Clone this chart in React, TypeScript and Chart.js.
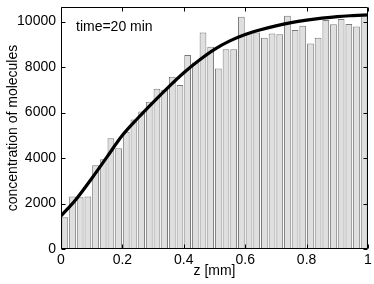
import React, { useEffect, useRef } from "react";
import { Chart, registerables } from "chart.js";

Chart.register(...registerables);

const binCenters = [
  0.0125, 0.0375, 0.0625, 0.0875, 0.1125, 0.1375, 0.1625, 0.1875, 0.2125, 0.2375,
  0.2625, 0.2875, 0.3125, 0.3375, 0.3625, 0.3875, 0.4125, 0.4375, 0.4625, 0.4875,
  0.5125, 0.5375, 0.5625, 0.5875, 0.6125, 0.6375, 0.6625, 0.6875, 0.7125, 0.7375,
  0.7625, 0.7875, 0.8125, 0.8375, 0.8625, 0.8875, 0.9125, 0.9375, 0.9625, 0.9875,
];
const binCounts = [
  1400, 2310, 2270, 2310, 3680, 3950, 4870, 4430, 5150, 5690,
  6050, 6470, 7050, 7000, 7570, 7210, 8530, 8200, 9520, 8890,
  7940, 8780, 8780, 10210, 9520, 9520, 9290, 9480, 9440, 10260,
  9630, 9820, 9040, 9290, 10070, 9880, 10110, 9890, 9780, 10320,
];
const curveZ = [
  0, 0.05, 0.1, 0.15, 0.2, 0.25, 0.3, 0.35, 0.4, 0.45, 0.5,
  0.55, 0.6, 0.65, 0.7, 0.75, 0.8, 0.85, 0.9, 0.95, 1,
];
const curveC = [
  1450, 2200, 3100, 4050, 5000, 5750, 6450, 7120, 7750, 8300, 8780,
  9150, 9430, 9640, 9810, 9950, 10060, 10150, 10220, 10260, 10290,
];
const xTicks = [0, 0.2, 0.4, 0.6, 0.8, 1];
const yTicks = [0, 2000, 4000, 6000, 8000, 10000];
const yMax = 10640;
const annotation = "time=20 min";
const xTitle = "z [mm]";
const yTitle = "concentration of molecules";

const FONT = "'Liberation Sans', Arial, Helvetica, sans-serif";

const matlabAxes = {
  id: "matlabAxes",
  afterDatasetsDraw(chart: any) {
    const { ctx, chartArea, scales } = chart;
    const { left, right, top, bottom } = chartArea;
    const x = scales.x;
    const y = scales.y;
    ctx.save();
    ctx.strokeStyle = "#000";
    ctx.lineWidth = 1;
    const L = Math.round(left) + 0.5;
    const R = Math.round(right) - 0.5;
    const T = Math.round(top) + 0.5;
    const B = Math.round(bottom) - 0.5;
    ctx.beginPath();
    ctx.rect(L, T, R - L, B - T);
    const tl = 4;
    for (const v of xTicks) {
      const px = Math.round(x.getPixelForValue(v)) + 0.5;
      ctx.moveTo(px, B);
      ctx.lineTo(px, B - tl);
      ctx.moveTo(px, T);
      ctx.lineTo(px, T + tl);
    }
    for (const v of yTicks) {
      const py = Math.round(y.getPixelForValue(v)) + 0.5;
      ctx.moveTo(L, py);
      ctx.lineTo(L + tl, py);
      ctx.moveTo(R, py);
      ctx.lineTo(R - tl, py);
    }
    ctx.stroke();
    ctx.fillStyle = "#000";
    ctx.font = `14px ${FONT}`;
    ctx.textBaseline = "middle";
    ctx.textAlign = "left";
    ctx.fillText(annotation, left + 15, top + 20);
    ctx.restore();
  },
};

export default function App() {
  const canvasRef = useRef<HTMLCanvasElement | null>(null);

  useEffect(() => {
    const canvas = canvasRef.current;
    if (!canvas) return;
    Chart.defaults.font.family = FONT;
    Chart.defaults.font.size = 14;
    Chart.defaults.color = "#000";

    const chart = new Chart(canvas, {
      type: "bar",
      data: {
        datasets: [
          {
            type: "line",
            data: curveZ.map((z, i) => ({ x: z, y: curveC[i] })),
            borderColor: "#000",
            borderWidth: 3.2,
            pointRadius: 0,
            fill: false,
            cubicInterpolationMode: "monotone",
            order: 0,
          } as any,
          {
            type: "bar",
            data: binCenters.map((z, i) => ({ x: z, y: binCounts[i] })),
            backgroundColor: "#dfdfdf",
            borderColor: "#7a7a7a",
            borderWidth: 1,
            borderSkipped: false,
            barPercentage: 0.88,
            categoryPercentage: 1,
            order: 1,
          } as any,
        ],
      },
      options: {
        animation: false,
        responsive: true,
        maintainAspectRatio: false,
        layout: { padding: { top: 7, right: 6, left: 0, bottom: 0 } },
        plugins: { legend: { display: false }, tooltip: { enabled: false } },
        scales: {
          x: {
            type: "linear",
            min: 0,
            max: 1,
            offset: false,
            grid: { display: false, drawTicks: false },
            border: { display: false },
            ticks: {
              padding: 3,
              maxRotation: 0,
              autoSkip: false,
              callback: (v: any) => String(Math.round(Number(v) * 10) / 10),
            },
            afterBuildTicks: (s: any) => {
              s.ticks = xTicks.map((v) => ({ value: v }));
            },
            afterFit: (s: any) => {
              s.height = 35;
              s.paddingLeft = 0;
              s.paddingRight = 0;
            },
            title: { display: true, text: xTitle, padding: { top: 0, bottom: 4 } },
          },
          y: {
            type: "linear",
            min: 0,
            max: yMax,
            grid: { display: false, drawTicks: false },
            border: { display: false },
            ticks: { padding: 5, callback: (v: any) => String(v) },
            afterBuildTicks: (s: any) => {
              s.ticks = yTicks.map((v) => ({ value: v }));
            },
            afterFit: (s: any) => {
              s.width = 61;
              s.paddingTop = 0;
              s.paddingBottom = 0;
            },
            title: { display: true, text: yTitle, padding: { top: 5, bottom: 0 } },
          },
        },
      } as any,
      plugins: [matlabAxes],
    });
    return () => chart.destroy();
  }, []);

  return (
    <div style={{ position: "fixed", left: 0, top: 0, width: 374, height: 284, background: "#fff" }}>
      <canvas ref={canvasRef} />
    </div>
  );
}
